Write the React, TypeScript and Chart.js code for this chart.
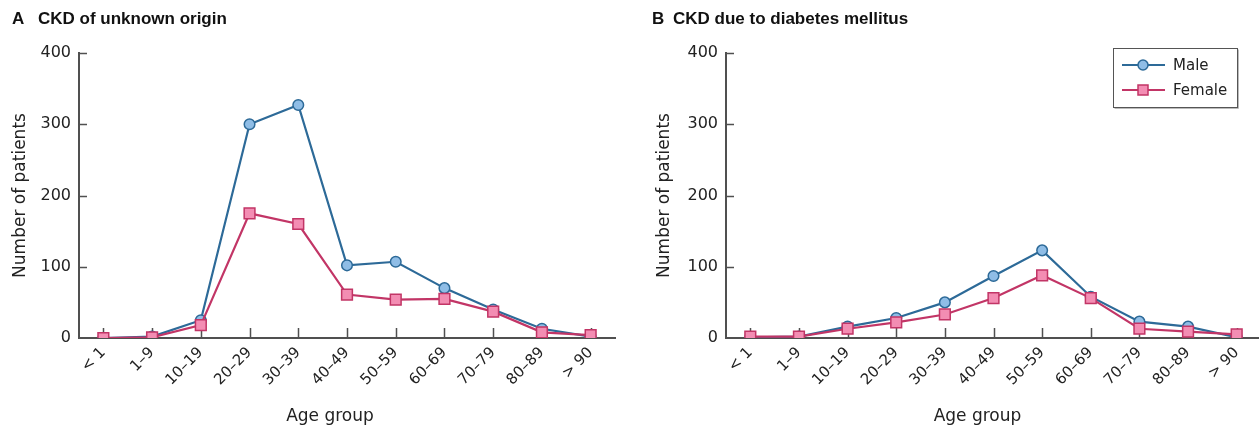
import React, { useEffect, useRef } from 'react';
import { Chart, registerables } from 'chart.js';

Chart.register(...registerables);

// ---------- data ----------
const ageGroups = ['< 1', '1–9', '10–19', '20–29', '30–39', '40–49', '50–59', '60–69', '70–79', '80–89', '> 90'];
const unknownMale = [0, 2, 25, 300, 327, 102, 107, 70, 40, 13, 2];
const unknownFemale = [0, 1, 18, 175, 160, 61, 54, 55, 37, 8, 4];
const diabetesMale = [1, 2, 16, 28, 50, 87, 123, 58, 23, 16, 1];
const diabetesFemale = [2, 2, 13, 22, 33, 56, 88, 56, 13, 9, 5];
const yTickValues = [0, 100, 200, 300, 400];
const seriesLabels = ['Male', 'Female'];
const panelLetters = ['A', 'B'];
const panelTitles = ['CKD of unknown origin', 'CKD due to diabetes mellitus'];
const xAxisTitle = 'Age group';
const yAxisTitle = 'Number of patients';

// ---------- styles ----------
const FONT = '"DejaVu Sans", "Liberation Sans", sans-serif';
const TITLE_FONT = '"Liberation Sans", Arial, sans-serif';
const AXIS = '#505050';
const TEXT = '#222222';
const MALE_LINE = '#2d6a98';
const MALE_FILL = '#8fbde6';
const FEMALE_LINE = '#c23566';
const FEMALE_FILL = '#f38db3';

type PanelCfg = {
  letter: string;
  title: string;
  male: number[];
  female: number[];
  width: number;
  yWidth: number;
  padRight: number;
  yTitlePad: number;
  letterX: number;
  titleX: number;
  xTitleShift: number;
  legend: boolean;
};

function makeDecorPlugin(cfg: PanelCfg) {
  return {
    id: 'decor' + cfg.letter,
    beforeDatasetsDraw(chart: any) {
      const { ctx, chartArea, scales } = chart;
      const x = scales.x;
      const y = scales.y;
      ctx.save();
      ctx.strokeStyle = AXIS;
      ctx.lineWidth = 1.5;
      ctx.beginPath();
      y.ticks.forEach((t: any) => {
        if (t.value === 0) return;
        const py = Math.round(y.getPixelForValue(t.value)) + 0.5;
        ctx.moveTo(chartArea.left, py);
        ctx.lineTo(chartArea.left + 8, py);
      });
      chart.data.labels.forEach((_: any, i: number) => {
        const px = Math.round(x.getPixelForValue(i)) + 0.5;
        ctx.moveTo(px, chartArea.bottom);
        ctx.lineTo(px, chartArea.bottom - 10);
      });
      ctx.stroke();
      ctx.restore();
    },
    afterDraw(chart: any) {
      const { ctx, chartArea } = chart;
      ctx.save();
      ctx.fillStyle = '#111';
      ctx.font = `bold 17px ${TITLE_FONT}`;
      ctx.textBaseline = 'alphabetic';
      ctx.textAlign = 'left';
      ctx.fillText(cfg.letter, cfg.letterX, 24);
      ctx.fillText(cfg.title, cfg.titleX, 24);

      // x axis title
      ctx.fillStyle = TEXT;
      ctx.font = `17px ${FONT}`;
      ctx.textAlign = 'center';
      ctx.textBaseline = 'middle';
      ctx.fillText(xAxisTitle, (chartArea.left + chartArea.right) / 2 + cfg.xTitleShift, chart.height - 17);
      ctx.textAlign = 'left';

      if (cfg.legend) {
        const bw = 124;
        const bh = 59;
        const bx = chartArea.right - 24 - bw;
        const by = chartArea.top - 5;
        ctx.fillStyle = '#ffffff';
        ctx.fillRect(bx, by, bw, bh);
        ctx.strokeStyle = '#bbbbbb';
        ctx.lineWidth = 1;
        ctx.beginPath();
        ctx.moveTo(bx + 1.5, by + bh + 1.5);
        ctx.lineTo(bx + bw + 1.5, by + bh + 1.5);
        ctx.lineTo(bx + bw + 1.5, by + 1.5);
        ctx.stroke();
        ctx.strokeStyle = '#555555';
        ctx.lineWidth = 1;
        ctx.strokeRect(Math.round(bx) + 0.5, Math.round(by) + 0.5, bw, bh);
        chart.data.datasets.forEach((ds: any, i: number) => {
          const ry = by + 17 + i * 25;
          ctx.strokeStyle = ds.borderColor;
          ctx.lineWidth = 2;
          ctx.beginPath();
          ctx.moveTo(bx + 9, ry);
          ctx.lineTo(bx + 52, ry);
          ctx.stroke();
          ctx.fillStyle = ds.pointBackgroundColor;
          ctx.strokeStyle = ds.pointBorderColor;
          ctx.lineWidth = 1.5;
          ctx.beginPath();
          if (ds.pointStyle === 'rect') {
            ctx.rect(bx + 30 - 5, ry - 5, 10, 10);
          } else {
            ctx.arc(bx + 30, ry, 5, 0, Math.PI * 2);
          }
          ctx.fill();
          ctx.stroke();
          ctx.fillStyle = TEXT;
          ctx.font = `15px ${FONT}`;
          ctx.textBaseline = 'middle';
          ctx.fillText(ds.label, bx + 60, ry + 1);
        });
      }
      ctx.restore();
    },
  };
}

function Panel({ cfg, left }: { cfg: PanelCfg; left: number }) {
  const ref = useRef<HTMLCanvasElement | null>(null);
  useEffect(() => {
    if (!ref.current) return;
    const chart = new Chart(ref.current, {
      type: 'line',
      data: {
        labels: ageGroups,
        datasets: [
          {
            label: seriesLabels[0],
            data: cfg.male,
            borderColor: MALE_LINE,
            borderWidth: 2.2,
            pointStyle: 'circle',
            pointRadius: 5.3,
            pointBackgroundColor: MALE_FILL,
            pointBorderColor: MALE_LINE,
            pointBorderWidth: 1.5,
            tension: 0,
            order: 1,
          },
          {
            label: seriesLabels[1],
            data: cfg.female,
            borderColor: FEMALE_LINE,
            borderWidth: 2.2,
            pointStyle: 'rect',
            pointRadius: 7.6,
            pointBackgroundColor: FEMALE_FILL,
            pointBorderColor: FEMALE_LINE,
            pointBorderWidth: 1.5,
            tension: 0,
            order: 0,
          },
        ],
      },
      options: {
        animation: false,
        responsive: false,
        maintainAspectRatio: false,
        layout: {
          autoPadding: false,
          padding: { top: 53, right: cfg.padRight, left: 0, bottom: 0 },
        },
        plugins: {
          legend: { display: false },
          tooltip: { enabled: false },
          title: { display: false },
        },
        scales: {
          x: {
            type: 'category',
            offset: true,
            grid: { display: false, drawTicks: false },
            border: { display: true, color: AXIS, width: 2 },
            ticks: {
              autoSkip: false,
              minRotation: 45,
              maxRotation: 45,
              padding: 6,
              color: TEXT,
              font: { family: FONT, size: 15 },
            },
            title: { display: false },
            afterFit: (s: any) => {
              s.height = 96;
              s.paddingLeft = 0;
              s.paddingRight = 0;
            },
          },
          y: {
            min: 0,
            max: 400,
            afterBuildTicks: (s: any) => {
              s.ticks = yTickValues.map((v) => ({ value: v }));
            },
            grid: { display: false, drawTicks: false },
            border: { display: true, color: AXIS, width: 2 },
            ticks: {
              padding: 8,
              color: TEXT,
              font: { family: FONT, size: 16 },
            },
            title: {
              display: true,
              text: yAxisTitle,
              color: TEXT,
              font: { family: FONT, size: 17 },
              padding: { top: cfg.yTitlePad, bottom: 0 },
            },
            afterFit: (s: any) => {
              s.width = cfg.yWidth;
            },
          },
        },
      },
      plugins: [makeDecorPlugin(cfg)],
    } as any);
    return () => chart.destroy();
  }, [cfg]);
  return (
    <canvas
      ref={ref}
      width={cfg.width}
      height={434}
      style={{ position: 'absolute', left, top: 0, width: cfg.width, height: 434 }}
    />
  );
}

const leftCfg: PanelCfg = {
  letter: panelLetters[0],
  title: panelTitles[0],
  male: unknownMale,
  female: unknownFemale,
  width: 630,
  yWidth: 79,
  padRight: 15,
  yTitlePad: 10,
  letterX: 12,
  titleX: 38,
  xTitleShift: -17,
  legend: false,
};

const rightCfg: PanelCfg = {
  letter: panelLetters[1],
  title: panelTitles[1],
  male: diabetesMale,
  female: diabetesFemale,
  width: 631,
  yWidth: 96,
  padRight: 0,
  yTitlePad: 24,
  letterX: 22,
  titleX: 43,
  xTitleShift: -16,
  legend: true,
};

export default function App() {
  return (
    <div
      style={{
        position: 'absolute',
        left: 0,
        top: 0,
        width: 1259,
        height: 434,
        overflow: 'hidden',
        background: '#ffffff',
      }}
    >
      <Panel cfg={leftCfg} left={0} />
      <Panel cfg={rightCfg} left={630} />
    </div>
  );
}
